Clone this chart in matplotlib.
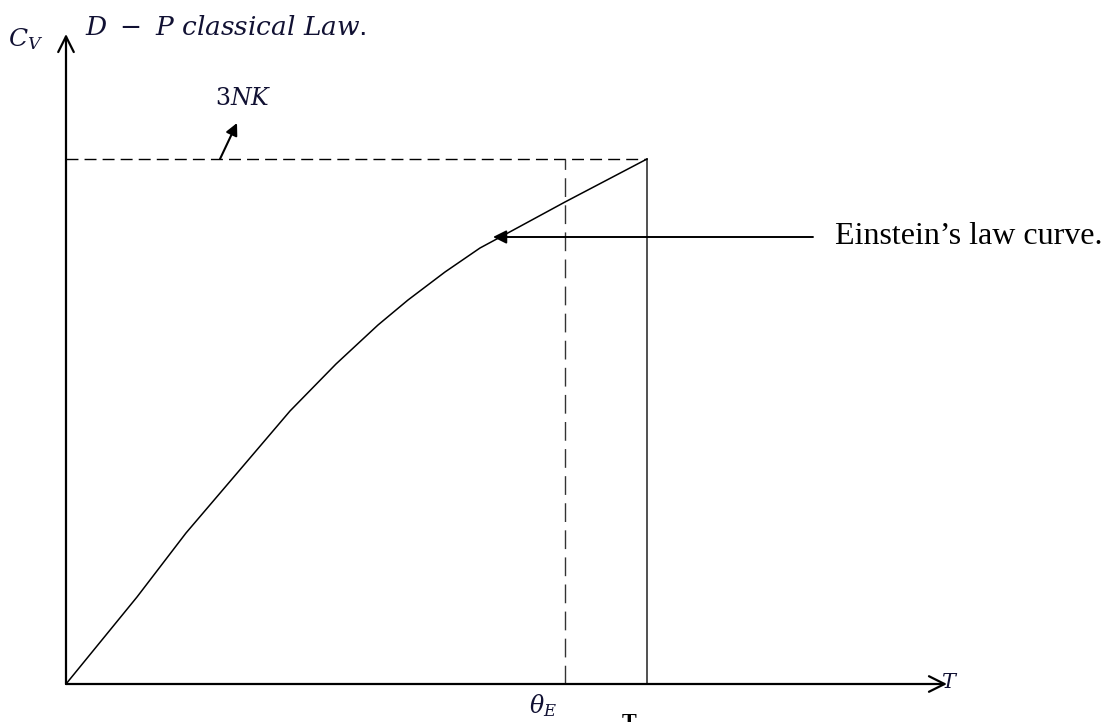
import matplotlib.pyplot as plt

plt.rcParams['mathtext.fontset'] = 'dejavuserif'

# Einstein curve (T, Cv)
curve_T = [0, 71, 120, 178, 224, 270, 312, 342, 379, 414, 440, 499, 581]
curve_Cv = [0, 87, 151, 219, 273, 320, 359, 384, 412, 436, 450, 482, 525]

theta_E = 499      # dashed vertical
T_max = 581        # solid vertical
C_3NK = 525        # dashed horizontal (3NK level)
T_axis_end = 881
Cv_axis_end = 650


def main():
    fig = plt.figure(figsize=(11.03, 7.22), dpi=100)
    ax = fig.add_axes([66 / 1103, 38 / 722, 1037 / 1103, 684 / 722])
    ax.set_xlim(0, 1037)
    ax.set_ylim(0, 684)
    ax.axis('off')

    # axes with open arrow heads
    ax.annotate('', xy=(0, Cv_axis_end), xytext=(0, 0),
                arrowprops=dict(arrowstyle='->', lw=1.6, color='black',
                                mutation_scale=28, shrinkA=0, shrinkB=0))
    ax.annotate('', xy=(T_axis_end, 0), xytext=(0, 0),
                arrowprops=dict(arrowstyle='->', lw=1.6, color='black',
                                mutation_scale=28, shrinkA=0, shrinkB=0))

    # 3NK level and theta_E
    ax.plot([0, T_max], [C_3NK, C_3NK], color='black', lw=1.0,
            dashes=(8.6, 4.4), clip_on=False)
    ax.plot([theta_E, theta_E], [0, C_3NK], color='#333333', lw=1.0,
            dashes=(13.5, 6.0))
    ax.plot([T_max, T_max], [0, C_3NK], color='#222222', lw=1.1)

    ax.plot(curve_T, curve_Cv, color='black', lw=1.1)

    # labels
    ax.text(-40, 645, r'$C_V$', fontsize=18, ha='center', va='center',
            color='#111133', clip_on=False)
    ax.text(19, 649, r'$D\ -\ P\ classical\ Law$.', fontsize=19, ha='left',
            va='baseline', color='#111133', clip_on=False)
    ax.text(177, 586, r'$3NK$', fontsize=17, ha='center', va='center',
            color='#111133')
    ax.annotate('', xy=(171, 561), xytext=(154, C_3NK),
                arrowprops=dict(arrowstyle='-|>', lw=1.5, color='black',
                                mutation_scale=18, shrinkA=0, shrinkB=0))

    ax.annotate('', xy=(427, 447), xytext=(747, 447),
                arrowprops=dict(arrowstyle='-|>', lw=1.4, color='black',
                                mutation_scale=20, shrinkA=0, shrinkB=0))
    ax.text(769, 447, 'Einstein\u2019s law curve.', fontsize=23,
            family='Liberation Serif', ha='left', va='center')

    ax.text(477, -8, r'$\theta_E$', fontsize=17, ha='center', va='top',
            color='#111133', clip_on=False)
    ax.text(884, 2, r'$T$', fontsize=15, ha='center', va='center',
            color='#111133', clip_on=False)
    ax.text(563, -29, 'T', fontsize=16, fontweight='bold', ha='center',
            va='top', family='Liberation Serif', clip_on=False)

    fig.savefig('out.png', dpi=100)


if __name__ == '__main__':
    main()
